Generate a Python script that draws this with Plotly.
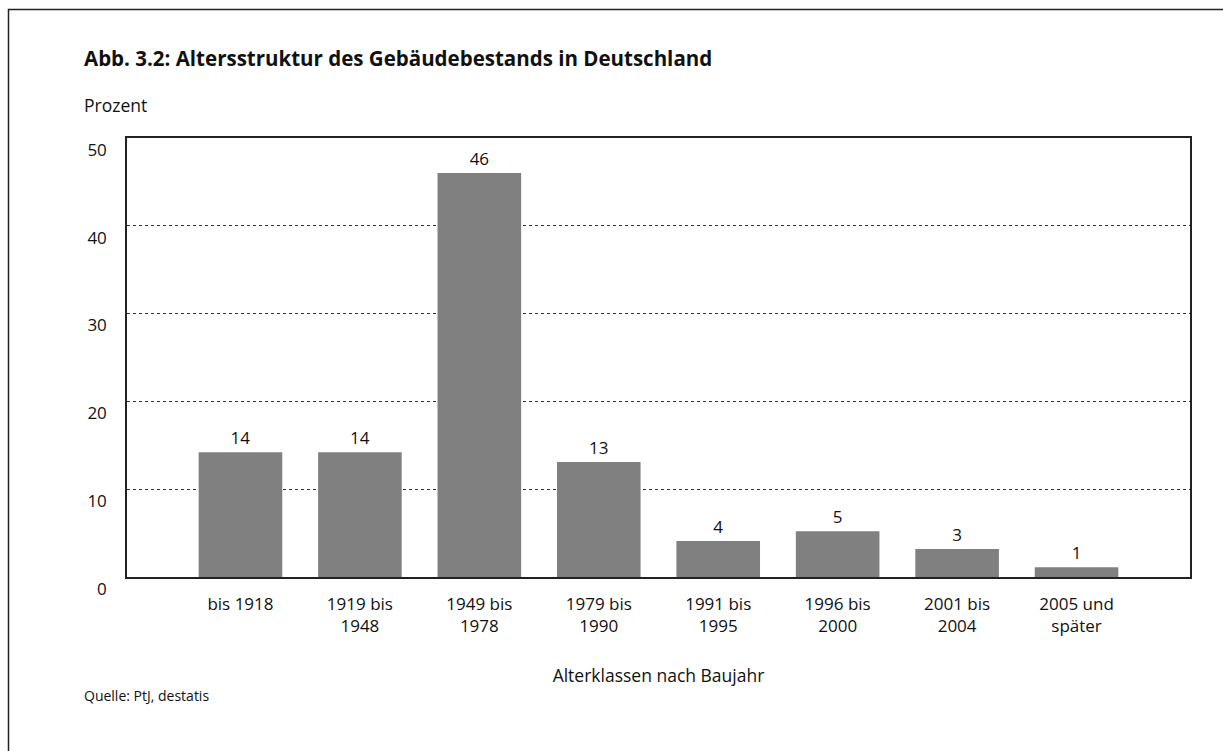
import plotly.graph_objects as go

categories = ["bis 1918", "1919 bis<br>1948", "1949 bis<br>1978", "1979 bis<br>1990",
              "1991 bis<br>1995", "1996 bis<br>2000", "2001 bis<br>2004", "2005 und<br>später"]
values = [14.2, 14.2, 46.0, 13.1, 4.1, 5.2, 3.2, 1.1]
y_ticks = [0, 10, 20, 30, 40, 50]

FONT = "Open Sans"
W, H = 1223, 751
L, R, T, B = 127, 33, 138, 174
pw, ph = W - L - R, H - T - B

def px(x):
    return (x - L) / pw

def py(y):
    return (H - B - y) / ph

fig = go.Figure()
fig.add_trace(go.Bar(
    x=list(range(len(categories))), y=values,
    marker=dict(color="#808080", line=dict(width=0)),
    width=0.7,
    text=values, texttemplate="%{y:.0f}", textposition="outside",
    textfont=dict(family=FONT, size=17, color="#111"),
    cliponaxis=False,
))

fig.update_layout(
    width=W, height=H,
    margin=dict(l=L, r=R, t=T, b=B, pad=0),
    paper_bgcolor="white", plot_bgcolor="white",
    showlegend=False,
    font=dict(family=FONT, size=17, color="#111"),
    bargap=0.3,
    xaxis=dict(
        range=[-0.95, 7.95],
        tickmode="array", tickvals=list(range(len(categories))), ticktext=categories,
        showgrid=False, zeroline=False,
        showline=True, linecolor="#222", linewidth=1.5, mirror=True,
        ticks="", ticklabelstandoff=11, tickfont=dict(family=FONT, size=17, color="#111"),
        title=dict(text="Alterklassen nach Baujahr", standoff=33,
                   font=dict(family=FONT, size=17.5, color="#111")),
    ),
    yaxis=dict(
        range=[0, 50],
        tickmode="array", tickvals=y_ticks,
        showgrid=True, gridcolor="#333", gridwidth=1, griddash="dot",
        zeroline=False,
        showline=True, linecolor="#222", linewidth=1.5, mirror=True,
        ticks="", ticklabelposition="outside bottom", ticklabelstandoff=15,
        tickfont=dict(family=FONT, size=17, color="#111"),
    ),
)

fig.add_annotation(text="<b>Abb. 3.2: Altersstruktur des Gebäudebestands in Deutschland</b>",
                   xref="paper", yref="paper", x=px(82), y=py(58), xanchor="left", yanchor="middle",
                   showarrow=False, font=dict(family=FONT, size=20.5, color="#111"))
fig.add_annotation(text="Prozent", xref="paper", yref="paper", x=px(82), y=py(105),
                   xanchor="left", yanchor="middle", showarrow=False,
                   font=dict(family=FONT, size=17.5, color="#111"))
fig.add_annotation(text="Quelle: PtJ, destatis", xref="paper", yref="paper", x=px(82), y=py(695),
                   xanchor="left", yanchor="middle", showarrow=False,
                   font=dict(family=FONT, size=14, color="#111"))

fig.add_shape(type="rect", xref="paper", yref="paper",
              x0=px(8.5), x1=px(W + 10), y0=py(H + 10), y1=py(9.5),
              line=dict(color="#222", width=1.5), fillcolor="rgba(0,0,0,0)", layer="below")

fig.write_html("out.html", config={"displayModeBar": False},
               post_script="document.body.style.margin='0';")
